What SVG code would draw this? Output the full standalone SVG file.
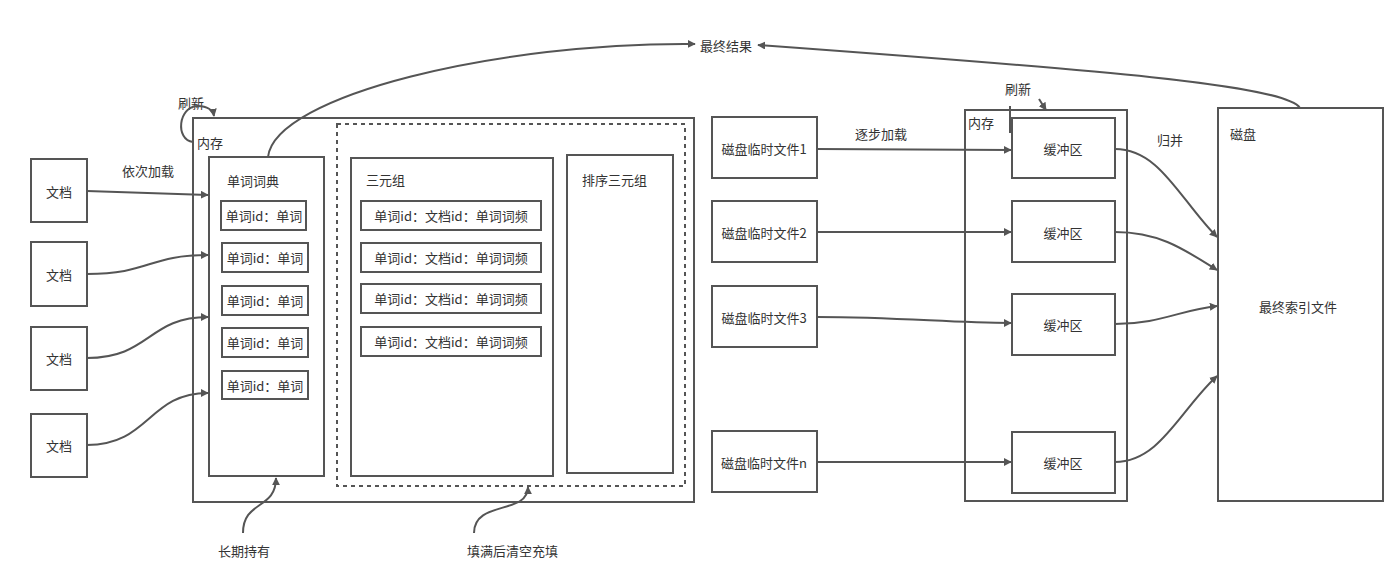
<svg xmlns="http://www.w3.org/2000/svg" width="1400" height="566" viewBox="0 0 1400 566">
<defs>
<marker id="ah" viewBox="0 0 10 10" refX="9" refY="5" markerWidth="8" markerHeight="8" markerUnits="userSpaceOnUse" orient="auto">
<path d="M0,0 L10,5 L0,10 z" fill="#555"/>
</marker>
<style>
rect{fill:none;stroke:#555;stroke-width:2}
.dash{stroke-dasharray:4 4}
text{font-family:"Noto Sans CJK SC","Noto Sans",sans-serif;font-size:13px;fill:#333;dominant-baseline:central}
.c{text-anchor:middle}
#connectors path{fill:none;stroke:#555;stroke-width:2;marker-end:url(#ah)}
#connectors path.nm{marker-end:none}
</style>
</defs>
<rect x="0" y="0" width="1400" height="566" style="fill:#fff;stroke:none"/>

<g id="mem-left"><rect x="193" y="118" width="501" height="384"/><text x="197" y="142">内存</text></g>
<g id="buffer-area"><rect class="dash" x="337" y="124" width="348" height="362"/></g>

<g id="doc1"><rect x="31" y="159" width="56" height="63"/><text class="c" x="59" y="191">文档</text></g>
<g id="doc2"><rect x="31" y="242" width="56" height="64"/><text class="c" x="59" y="274">文档</text></g>
<g id="doc3"><rect x="31" y="327" width="56" height="63"/><text class="c" x="59" y="358">文档</text></g>
<g id="doc4"><rect x="31" y="414" width="56" height="63"/><text class="c" x="59" y="445">文档</text></g>

<g id="dict"><rect x="209" y="157" width="115" height="319"/><text x="227" y="180">单词词典</text>
<rect x="221" y="201" width="85" height="29"/><text class="c" x="264" y="215">单词id：单词</text>
<rect x="222" y="243" width="86" height="29"/><text class="c" x="265" y="257">单词id：单词</text>
<rect x="222" y="286" width="86" height="29"/><text class="c" x="265" y="300">单词id：单词</text>
<rect x="222" y="328" width="86" height="29"/><text class="c" x="265" y="342">单词id：单词</text>
<rect x="222" y="371" width="86" height="28"/><text class="c" x="265" y="385">单词id：单词</text>
</g>

<g id="triples"><rect x="351" y="158" width="202" height="318"/><text x="366" y="179">三元组</text>
<rect x="361" y="201" width="180" height="29"/><text class="c" x="451" y="215">单词id：文档id：单词词频</text>
<rect x="361" y="243" width="180" height="29"/><text class="c" x="451" y="257">单词id：文档id：单词词频</text>
<rect x="361" y="284" width="180" height="29"/><text class="c" x="451" y="298">单词id：文档id：单词词频</text>
<rect x="361" y="327" width="180" height="29"/><text class="c" x="451" y="341">单词id：文档id：单词词频</text>
</g>

<g id="sorted"><rect x="567" y="155" width="106" height="318"/><text x="582" y="179">排序三元组</text></g>

<g id="file1"><rect x="712" y="117" width="105" height="61"/><text class="c" x="764" y="148">磁盘临时文件1</text></g>
<g id="file2"><rect x="712" y="201" width="105" height="61"/><text class="c" x="764" y="232">磁盘临时文件2</text></g>
<g id="file3"><rect x="712" y="286" width="105" height="61"/><text class="c" x="764" y="317">磁盘临时文件3</text></g>
<g id="filen"><rect x="712" y="431" width="105" height="61"/><text class="c" x="764" y="462">磁盘临时文件n</text></g>

<g id="mem-right"><rect x="965" y="110" width="162" height="391"/><text x="968" y="122">内存</text></g>
<g id="buf1"><rect x="1012" y="118" width="103" height="60"/><text class="c" x="1063" y="148">缓冲区</text></g>
<g id="buf2"><rect x="1012" y="201" width="103" height="61"/><text class="c" x="1063" y="232">缓冲区</text></g>
<g id="buf3"><rect x="1012" y="294" width="103" height="61"/><text class="c" x="1063" y="324">缓冲区</text></g>
<g id="bufn"><rect x="1012" y="432" width="103" height="61"/><text class="c" x="1063" y="462">缓冲区</text></g>

<g id="disk"><rect x="1218" y="108" width="165" height="393"/><text x="1230" y="133">磁盘</text><text class="c" x="1298" y="306">最终索引文件</text></g>

<g id="labels">
<text x="700" y="45">最终结果</text>
<text x="178" y="102">刷新</text>
<text x="122" y="170">依次加载</text>
<text x="1005" y="88">刷新</text>
<text x="855" y="133">逐步加载</text>
<text x="1157" y="139">归并</text>
<text x="218" y="550">长期持有</text>
<text x="467" y="550">填满后清空充填</text>
</g>

<g id="connectors">
<path d="M87,191 L208,195"/>
<path d="M87,274 C150,274 148,255 208,255"/>
<path d="M87,358 C150,358 148,317 208,317"/>
<path d="M87,445 C150,445 148,393 208,393"/>
<path d="M268,157 C275,95 500,42 695,44"/>
<path d="M1300,108 C1285,85 1100,70 758,45"/>
<path d="M193,142 C175,140 178,106 198,106 C207,106 213,110 214,116"/>
<path class="nm" d="M1010,106 L1010,133"/>
<path d="M1039,99 L1046,110"/>
<path d="M817,149 L1011,150"/>
<path d="M817,232 L1011,232"/>
<path d="M817,317 C900,317 950,323 1011,323"/>
<path d="M817,462 L1011,462"/>
<path d="M1115,149 C1160,149 1180,200 1217,237"/>
<path d="M1115,232 C1160,232 1185,250 1217,270"/>
<path d="M1115,324 C1160,324 1180,310 1217,306"/>
<path d="M1115,462 C1160,462 1180,410 1217,376"/>
<path d="M243,533 C243,500 276,510 276,478"/>
<path d="M474,533 C474,500 528,515 528,487"/>
</g>
</svg>
